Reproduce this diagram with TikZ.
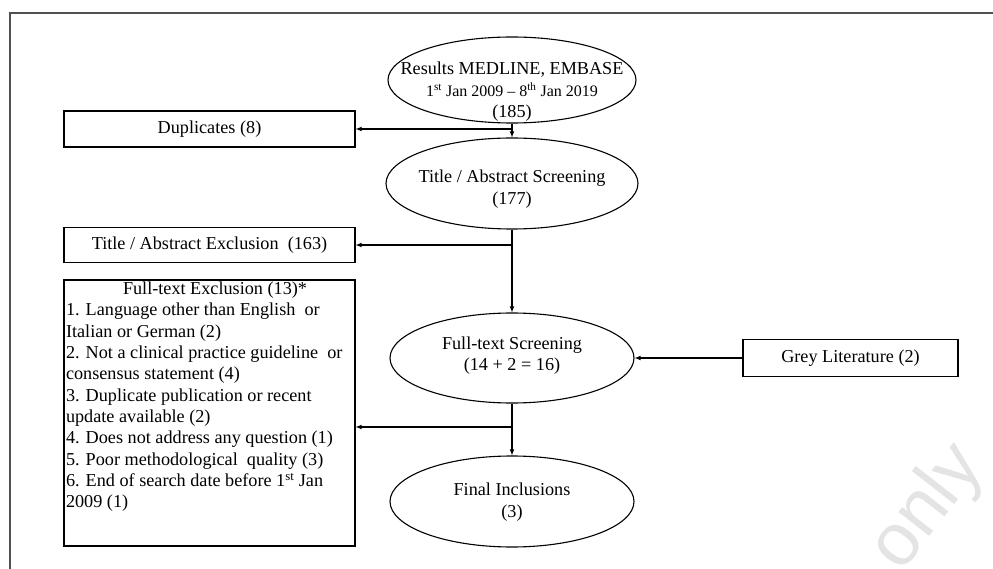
\documentclass[tikz,border=0pt]{standalone}
\usepackage{fontspec}
\setmainfont{Liberation Serif}
\newfontfamily\wmfont{Liberation Sans}
\usetikzlibrary{shapes.geometric}
\tikzset{>=latex}
\definecolor{frame}{HTML}{505050}
\definecolor{watermark}{HTML}{E4E4E4}

\begin{document}
\begin{tikzpicture}[x=1pt, y=-1pt, line width=1.1pt, font=\fontsize{18.2}{21.5}\selectfont]
    \tikzset{box/.style = {draw, minimum width=291pt, inner sep=2pt},
             oval/.style = {draw, ellipse, inner sep=0pt},
             words/.style = {align=center, inner sep=0pt}}
    \useasboundingbox (0, 0) rectangle (993, 569);
    \node[rotate=52, text=watermark, font=\wmfont\fontsize{74}{74}\selectfont] (wm) at (928, 508) {only};
    \draw[frame, line width=1.5pt] (10, 569) -- (10, 13) -- (993, 13);

    \node[oval, minimum width=248pt, minimum height=86pt] (res) at (512, 80) {};
    \node[words] (res-t) at (512, 92) {Results MEDLINE, EMBASE\\{\fontsize{16}{20}\selectfont 1\textsuperscript{st} Jan 2009 -- 8\textsuperscript{th} Jan 2019}\\(185)};
    \node[oval, minimum width=252pt, minimum height=91pt] (tas) at (512, 183.5) {};
    \node[words] (tas-t) at (512, 189) {Title / Abstract Screening\\(177)};
    \node[oval, minimum width=244pt, minimum height=90pt] (fts) at (512, 358) {};
    \node[words] (fts-t) at (512, 355.5) {Full-text Screening\\(14 + 2 = 16)};
    \node[oval, minimum width=244pt, minimum height=91pt] (fin) at (512, 501.5) {};
    \node[words] (fin-t) at (512, 502) {Final Inclusions\\(3)};

    \node[box, minimum height=36pt] (dup) at (209.5, 129) {Duplicates (8)};
    \node[box, minimum height=35pt] (tae) at (209.5, 245) {Title / Abstract Exclusion~ (163)};
    \node[box] (fte) at (209.5, 413) {\parbox[c][262pt][t]{287pt}{\fontsize{18.2}{21.3}\selectfont
        \hspace*{57pt}Full-text Exclusion (13)*\\
        1. Language other than English~ or\\
        Italian or German (2)\\
        2. Not a clinical practice guideline~ or\\
        consensus statement (4)\\
        3. Duplicate publication or recent\\
        update available (2)\\
        4. Does not address any question (1)\\
        5. Poor methodological~ quality (3)\\
        6. End of search date before 1\textsuperscript{st} Jan\\
        2009 (1)}};
    \node[box, minimum width=215pt, minimum height=37pt] (grey) at (850.5, 358) {Grey Literature (2)};

    \coordinate (j1) at (512, 129);
    \coordinate (j2) at (512, 245);
    \coordinate (j3) at (512, 427);
    \draw[->] (res) -- (tas);
    \draw[->] (j1) -- (dup);
    \draw[->] (tas) -- (fts);
    \draw[->] (j2) -- (tae);
    \draw[->] (fts) -- (fin);
    \draw[->] (j3) -- (j3 -| fte.east);
    \draw[->] (grey) -- (fts);
\end{tikzpicture}
\end{document}
